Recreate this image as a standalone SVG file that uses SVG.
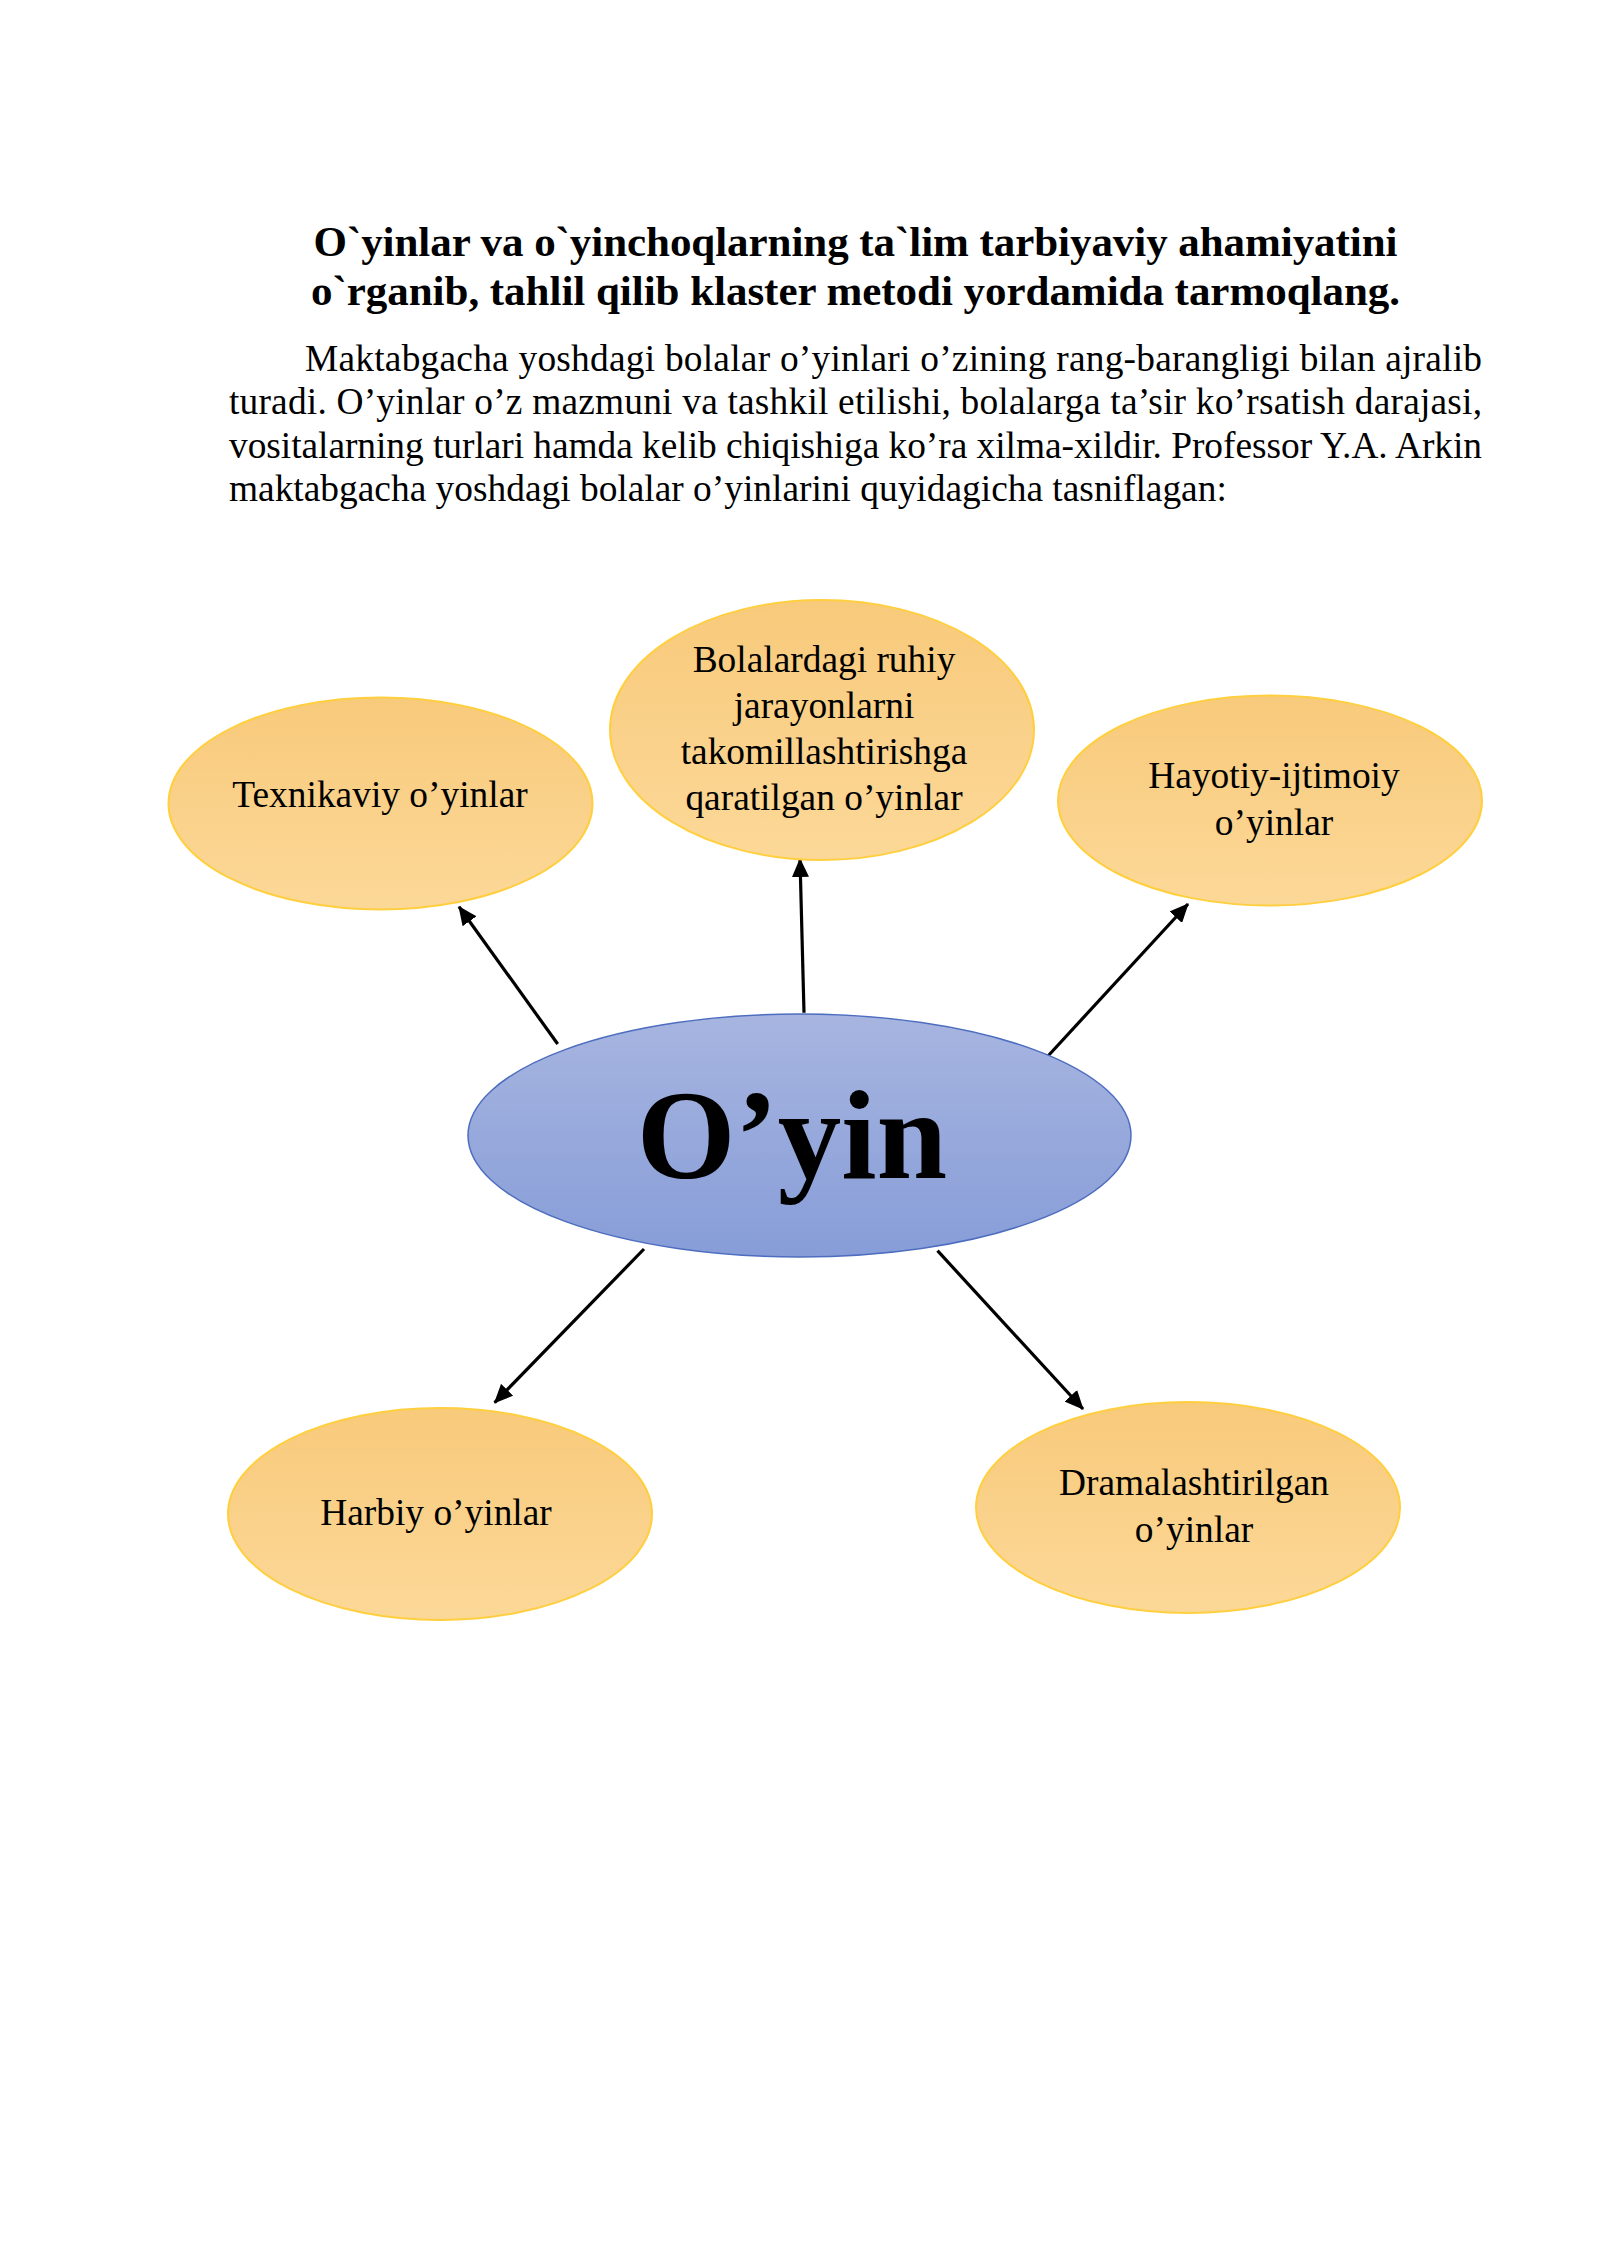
<svg xmlns="http://www.w3.org/2000/svg" width="1600" height="2262" viewBox="0 0 1600 2262">
  <style>
    .title { font-family: "Liberation Serif", "Times New Roman", serif; font-weight: bold; font-size: 43px; fill: #000; }
    .body { font-family: "Liberation Serif", "Times New Roman", serif; font-size: 37.4px; fill: #000; }
    .lbl { font-family: "Liberation Serif", "Times New Roman", serif; font-size: 37.4px; fill: #000; text-anchor: middle; }
    .main { font-family: "Liberation Serif", "Times New Roman", serif; font-weight: bold; font-size: 127px; fill: #000; text-anchor: middle; }
    .leaf { fill: url(#gOrange); stroke: #FFCF3F; stroke-width: 2; }
    .hub { fill: url(#gBlue); stroke: #4D6DBF; stroke-width: 1.5; }
    .conn { stroke: #000; stroke-width: 3.2; fill: none; marker-end: url(#arrow); }
  </style>
  <defs>
    <linearGradient id="gOrange" x1="0" y1="0" x2="0" y2="1">
      <stop offset="0" stop-color="#F8CA7B"/>
      <stop offset="1" stop-color="#FCD898"/>
    </linearGradient>
    <linearGradient id="gBlue" x1="0" y1="0" x2="0" y2="1">
      <stop offset="0" stop-color="#A7B5E0"/>
      <stop offset="1" stop-color="#879DD8"/>
    </linearGradient>
    <marker id="arrow" markerUnits="userSpaceOnUse" markerWidth="19" markerHeight="17" refX="18" refY="8.5" orient="auto">
      <path d="M0,0 L19,8.5 L0,17 z" fill="#000"/>
    </marker>
  </defs>
  <rect width="1600" height="2262" fill="#fff"/>

  <g id="heading">
    <text class="title" x="855.5" y="256" text-anchor="middle" textLength="1084" lengthAdjust="spacing">O`yinlar va o`yinchoqlarning ta`lim tarbiyaviy ahamiyatini</text>
    <text class="title" x="855.5" y="305" text-anchor="middle" textLength="1089" lengthAdjust="spacing">o`rganib, tahlil qilib klaster metodi yordamida tarmoqlang.</text>
  </g>
  <g id="paragraph">
    <text class="body" x="305" y="371" textLength="1177" lengthAdjust="spacing">Maktabgacha yoshdagi bolalar o’yinlari o’zining rang-barangligi bilan ajralib</text>
    <text class="body" x="229" y="414" textLength="1253" lengthAdjust="spacing">turadi. O’yinlar o’z mazmuni va tashkil etilishi, bolalarga ta’sir ko’rsatish darajasi,</text>
    <text class="body" x="229" y="458" textLength="1253" lengthAdjust="spacing">vositalarning turlari hamda kelib chiqishiga ko’ra xilma-xildir. Professor Y.A. Arkin</text>
    <text class="body" x="229" y="501">maktabgacha yoshdagi bolalar o’yinlarini quyidagicha tasniflagan:</text>
  </g>

  <g id="connectors">
    <line class="conn" x1="557.7" y1="1044" x2="459" y2="906.7"/>
    <line class="conn" x1="804" y1="1012.7" x2="800" y2="859"/>
    <line class="conn" x1="1048" y1="1056" x2="1188" y2="904"/>
    <line class="conn" x1="644" y1="1249" x2="494.6" y2="1402.7"/>
    <line class="conn" x1="937.5" y1="1250.7" x2="1083" y2="1409"/>
  </g>

  <g id="node-texnikaviy">
    <ellipse class="leaf" cx="380.5" cy="803.5" rx="212" ry="106"/>
    <text class="lbl" x="380" y="807">Texnikaviy o’yinlar</text>
  </g>
  <g id="node-bolalardagi">
    <ellipse class="leaf" cx="822" cy="730" rx="212" ry="130"/>
    <text class="lbl" x="824" y="672">Bolalardagi ruhiy</text>
    <text class="lbl" x="824" y="718">jarayonlarni</text>
    <text class="lbl" x="824" y="764">takomillashtirishga</text>
    <text class="lbl" x="824" y="810">qaratilgan o’yinlar</text>
  </g>
  <g id="node-hayotiy">
    <ellipse class="leaf" cx="1270" cy="800.5" rx="212" ry="105"/>
    <text class="lbl" x="1274" y="788">Hayotiy-ijtimoiy</text>
    <text class="lbl" x="1274" y="835">o’yinlar</text>
  </g>
  <g id="node-oyin">
    <ellipse class="hub" cx="799.5" cy="1135.5" rx="331.5" ry="121.5"/>
    <text class="main" x="792" y="1178">O’yin</text>
  </g>
  <g id="node-harbiy">
    <ellipse class="leaf" cx="440" cy="1514" rx="212" ry="106"/>
    <text class="lbl" x="436" y="1525">Harbiy o’yinlar</text>
  </g>
  <g id="node-dramalashtirilgan">
    <ellipse class="leaf" cx="1188" cy="1507.5" rx="212" ry="105.5"/>
    <text class="lbl" x="1194" y="1495">Dramalashtirilgan</text>
    <text class="lbl" x="1194" y="1542">o’yinlar</text>
  </g>
</svg>
